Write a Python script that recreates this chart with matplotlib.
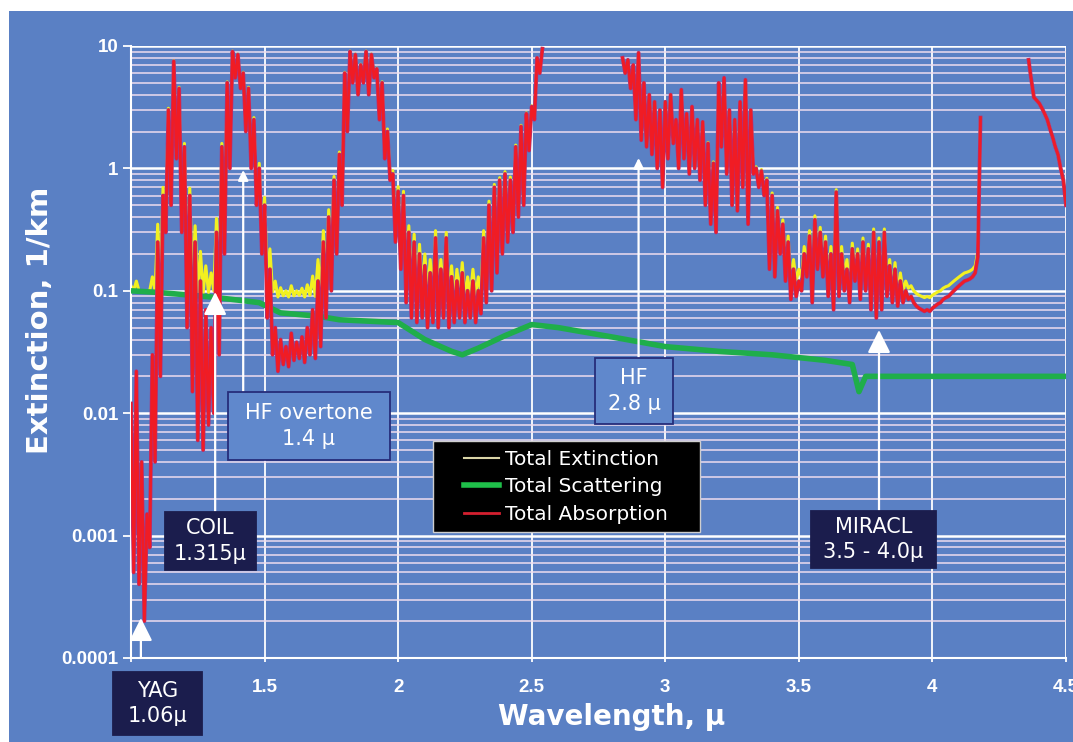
import numpy as np
import matplotlib
matplotlib.use("Agg")
import matplotlib.pyplot as plt
from matplotlib.patches import Rectangle
from matplotlib.lines import Line2D
from matplotlib.ticker import LogLocator, NullFormatter

# ---- values -----------------------------------------------------------
# absorption / extinction (1/km), sampled every 0.01 micron, three pieces
wl_1 = (1.00, 2.54)
absorption_1 = [
    0.012, 0.0005, 0.022, 0.0004, 0.004, 0.0002, 0.0015, 0.0008, 0.03, 0.004,
    0.25, 0.02, 0.6, 0.3, 3.0, 0.5, 7.5, 1.2, 4.5, 0.3,
    1.5, 0.05, 0.6, 0.015, 0.25, 0.006, 0.12, 0.005, 0.07, 0.008,
    0.05, 0.01, 0.3, 0.03, 1.5, 0.2, 5.0, 1.0, 9.0, 5.5,
    8.5, 4.5, 6.0, 2.0, 4.5, 1.0, 2.5, 0.5, 1.0, 0.2,
    0.5, 0.06, 0.15, 0.03, 0.05, 0.022, 0.04, 0.025, 0.035, 0.024,
    0.045, 0.027, 0.038, 0.028, 0.042, 0.026, 0.05, 0.03, 0.07, 0.028,
    0.12, 0.035, 0.25, 0.06, 0.4, 0.1, 0.8, 0.2, 1.3, 0.5,
    6.0, 2.0, 9.0, 5.0, 8.5, 4.0, 7.0, 5.0, 9.0, 4.0,
    8.5, 5.5, 6.5, 2.5, 5.0, 1.2, 2.0, 0.8, 0.9, 0.25,
    0.65, 0.15, 0.6, 0.08, 0.3, 0.06, 0.25, 0.055, 0.2, 0.06,
    0.16, 0.05, 0.14, 0.055, 0.27, 0.05, 0.15, 0.06, 0.27, 0.05,
    0.13, 0.055, 0.12, 0.06, 0.14, 0.055, 0.1, 0.06, 0.12, 0.055,
    0.1, 0.065, 0.27, 0.08, 0.5, 0.1, 0.7, 0.14, 0.8, 0.2,
    0.9, 0.25, 0.8, 0.3, 1.5, 0.4, 2.2, 0.5, 2.8, 1.4,
    3.2, 2.5, 8.0, 6.0, 9.5]
extinction_1 = [
    0.11, 0.10, 0.12, 0.10, 0.10, 0.10, 0.10, 0.10, 0.13, 0.10,
    0.35, 0.12, 0.70, 0.40, 3.1, 0.6, 7.6, 1.3, 4.6, 0.39,
    1.6, 0.14, 0.69, 0.11, 0.34, 0.098, 0.21, 0.096, 0.16, 0.097,
    0.14, 0.10, 0.39, 0.12, 1.6, 0.29, 5.1, 1.1, 9.1, 5.6,
    8.6, 4.6, 6.1, 2.1, 4.6, 1.1, 2.6, 0.58, 1.1, 0.28,
    0.58, 0.13, 0.22, 0.098, 0.12, 0.089, 0.106, 0.091, 0.10, 0.089,
    0.11, 0.091, 0.10, 0.092, 0.105, 0.089, 0.112, 0.092, 0.132, 0.09,
    0.18, 0.097, 0.31, 0.12, 0.46, 0.16, 0.86, 0.26, 1.36, 0.56,
    6.1, 2.1, 9.1, 5.1, 8.6, 4.1, 7.1, 5.1, 9.1, 4.1,
    8.6, 5.6, 6.6, 2.6, 5.1, 1.3, 2.1, 0.86, 0.96, 0.31,
    0.71, 0.2, 0.65, 0.13, 0.34, 0.11, 0.29, 0.096, 0.24, 0.10,
    0.2, 0.089, 0.18, 0.091, 0.31, 0.085, 0.18, 0.093, 0.3, 0.083,
    0.16, 0.085, 0.15, 0.09, 0.17, 0.086, 0.13, 0.092, 0.15, 0.088,
    0.13, 0.1, 0.31, 0.12, 0.54, 0.14, 0.74, 0.18, 0.84, 0.24,
    0.94, 0.29, 0.85, 0.35, 1.55, 0.45, 2.25, 0.55, 2.85, 1.45,
    3.25, 2.55, 8.05, 6.05, 9.55]

wl_2 = (2.84, 4.18)
absorption_2 = [
    8.0, 6.0, 7.7, 4.5, 7.0, 2.5, 8.8, 1.7, 5.0, 1.5,
    4.0, 1.3, 3.5, 1.0, 3.0, 0.7, 3.5, 1.2, 4.0, 1.6,
    2.5, 1.0, 4.4, 1.2, 2.8, 0.9, 3.2, 1.0, 2.5, 0.8,
    2.4, 0.5, 1.6, 0.35, 1.1, 0.3, 5.0, 1.5, 5.5, 0.9,
    3.0, 0.5, 2.5, 0.45, 3.5, 0.7, 5.3, 0.35, 3.0, 0.9,
    1.0, 0.7, 0.95, 0.6, 0.8, 0.15, 0.6, 0.13, 0.45, 0.2,
    0.35, 0.12, 0.25, 0.085, 0.15, 0.09, 0.12, 0.1, 0.2, 0.13,
    0.28, 0.08, 0.38, 0.15, 0.3, 0.13, 0.25, 0.09, 0.2, 0.07,
    0.64, 0.09, 0.2, 0.1, 0.15, 0.08, 0.22, 0.12, 0.2, 0.085,
    0.25, 0.1, 0.22, 0.07, 0.3, 0.06, 0.25, 0.07, 0.3, 0.09,
    0.16, 0.08, 0.15, 0.075, 0.12, 0.08, 0.1, 0.085, 0.09, 0.08,
    0.075, 0.072, 0.07, 0.068, 0.07, 0.068, 0.072, 0.075, 0.078, 0.08,
    0.085, 0.088, 0.09, 0.095, 0.1, 0.105, 0.11, 0.115, 0.12, 0.122,
    0.125, 0.13, 0.14, 0.19, 2.6]
extinction_2 = [
    8.0, 6.0, 7.7, 4.5, 7.0, 2.5, 8.8, 1.74, 5.0, 1.54,
    4.0, 1.34, 3.5, 1.04, 3.0, 0.74, 3.5, 1.23, 4.0, 1.63,
    2.5, 1.03, 4.4, 1.23, 2.8, 0.93, 3.2, 1.03, 2.5, 0.83,
    2.4, 0.53, 1.63, 0.38, 1.13, 0.33, 5.0, 1.53, 5.5, 0.93,
    3.0, 0.53, 2.5, 0.48, 3.5, 0.73, 5.3, 0.38, 3.0, 0.93,
    1.03, 0.73, 0.98, 0.63, 0.83, 0.18, 0.63, 0.16, 0.48, 0.23,
    0.38, 0.15, 0.28, 0.114, 0.18, 0.12, 0.15, 0.13, 0.23, 0.16,
    0.31, 0.11, 0.41, 0.18, 0.33, 0.16, 0.28, 0.12, 0.23, 0.1,
    0.67, 0.12, 0.23, 0.13, 0.18, 0.105, 0.245, 0.145, 0.22, 0.1,
    0.27, 0.12, 0.24, 0.09, 0.32, 0.08, 0.27, 0.09, 0.32, 0.11,
    0.18, 0.1, 0.17, 0.095, 0.14, 0.1, 0.12, 0.105, 0.11, 0.1,
    0.095, 0.092, 0.09, 0.088, 0.09, 0.088, 0.092, 0.095, 0.098, 0.1,
    0.105, 0.108, 0.11, 0.115, 0.12, 0.125, 0.13, 0.135, 0.14, 0.142,
    0.145, 0.15, 0.16, 0.21, 2.6]

wl_3 = (4.36, 4.50)
absorption_3 = [7.7, 5.3, 3.8, 3.6, 3.4, 3.1, 2.8, 2.5, 2.1, 1.8, 1.5, 1.3, 1.0, 0.8, 0.5]
extinction_3 = [7.7, 5.3, 3.8, 3.6, 3.4, 3.1, 2.8, 2.5, 2.1, 1.8, 1.5, 1.3, 1.0, 0.82, 0.52]

# scattering is smooth, so fewer points
scatter_wl = [1.0, 1.1, 1.2, 1.3, 1.4, 1.48, 1.56, 1.7, 1.78, 2.0, 2.1, 2.2, 2.24,
              2.3, 2.4, 2.5, 2.6, 2.8, 3.0, 3.2, 3.4, 3.6, 3.7, 3.725, 3.75, 3.8, 4.0, 4.5]
scattering = [0.1, 0.097, 0.093, 0.089, 0.084, 0.08, 0.066, 0.062, 0.058, 0.055, 0.04,
              0.032, 0.03, 0.034, 0.043, 0.053, 0.05, 0.042, 0.035, 0.032, 0.03, 0.027,
              0.025, 0.015, 0.02, 0.02, 0.02, 0.02]

x_ticks = [1, 1.5, 2, 2.5, 3, 3.5, 4, 4.5]
x_ticklabels = ['', '1.5', '2', '2.5', '3', '3.5', '4', '4.5']  # "1" sits under the YAG box
y_ticks = [1e-4, 1e-3, 1e-2, 1e-1, 1, 10]
y_ticklabels = ['0.0001', '0.001', '0.01', '0.1', '1', '10']
legend_labels = ['Total Extinction', 'Total Scattering', 'Total Absorption']

# ---- layout / colours ------------------------------------------------
W, H = 1073, 742
BLUE = '#5a80c4'
NAVY = '#1b1d4d'
TICKFONT = dict(fontsize=13.5, fontweight='bold', color='white',
                family=['Liberation Sans', 'DejaVu Sans'])


def fx(px):
    return px / W


def fy(py):
    return 1 - py / H


def piece(rng, vals):
    return np.linspace(rng[0], rng[1], len(vals)), np.array(vals, float)


gap = [np.nan]
w1, a1 = piece(wl_1, absorption_1)
w2, a2 = piece(wl_2, absorption_2)
w3, a3 = piece(wl_3, absorption_3)
wl = np.concatenate([w1, gap, w2, gap, w3])
absorption = np.concatenate([a1, gap, a2, gap, a3])
extinction = np.concatenate([extinction_1, gap, extinction_2, gap, extinction_3])

fig = plt.figure(figsize=(W / 100, H / 100), dpi=100, facecolor=BLUE)
# thin white margin top and left like the scan
fig.add_artist(Rectangle((0, fy(11)), 1, 1 - fy(11), transform=fig.transFigure,
                         facecolor='white', edgecolor='none', zorder=10))
fig.add_artist(Rectangle((0, 0), fx(9), 1, transform=fig.transFigure,
                         facecolor='white', edgecolor='none', zorder=10))

ax = fig.add_axes([fx(131), fy(658), fx(1066) - fx(131), fy(46) - fy(658)])
ax.set_facecolor(BLUE)
ax.set_yscale('log')
ax.set_xlim(1, 4.5)
ax.set_ylim(1e-4, 10)

ax.set_yticks(y_ticks, labels=y_ticklabels, **TICKFONT)
ax.set_xticks(x_ticks, labels=x_ticklabels, **TICKFONT)
ax.yaxis.set_minor_locator(LogLocator(base=10, subs=np.arange(2, 10)))
ax.yaxis.set_minor_formatter(NullFormatter())

# grid
ax.grid(axis='y', which='major', color='white', lw=1.8, zorder=0.5)
ax.grid(axis='y', which='minor', color='#eedcee', lw=1.1, zorder=0.5)
ax.grid(axis='x', which='major', color='white', lw=1.3, zorder=0.5)
ax.set_axisbelow(True)

for s in ['top', 'right']:
    ax.spines[s].set_visible(False)
for s in ['left', 'bottom']:
    ax.spines[s].set_color('white')
    ax.spines[s].set_linewidth(1.5)

ax.tick_params(axis='y', which='major', direction='out', length=6, width=1.3,
               color='white', pad=3)
ax.tick_params(axis='y', which='minor', length=0)
ax.tick_params(axis='x', direction='out', length=3, width=1.3, color='white', pad=12)

ax.set_xlabel('Wavelength, μ', fontsize=20, fontweight='bold', color='white', va='center')
ax.xaxis.set_label_coords(0.514, -0.097)
ax.set_ylabel('Extinction, 1/km', fontsize=21, fontweight='bold', color='white', va='center')
ax.yaxis.set_label_coords(-0.097, 0.552)

# curves
ax.plot(wl, extinction, color='#f2f020', lw=2.2, zorder=2)
ax.plot(scatter_wl, scattering, color='#1fae4a', lw=4.0, zorder=3, solid_capstyle='butt')
ax.plot(wl, absorption, color='#b0307a', lw=2.8, zorder=4)
ax.plot(wl, absorption, color='#f01c24', lw=1.9, zorder=4.5)

# arrows (x in microns, y in figure pixels from the top)
arrows = [
    (1.037, 618, 658, 'big'),
    (1.315, 292, 512, 'big'),
    (1.42, 170, 392, 'small'),
    (2.9, 158, 358, 'small'),
    (3.80, 330, 511, 'big'),
]
for x, tip, base, kind in arrows:
    if kind == 'big':
        style = '-|>,head_length=1.4,head_width=0.7'
    else:
        style = '-|>,head_length=0.6,head_width=0.3'
    ax.annotate('', xy=(x, H - tip), xytext=(x, H - base),
                xycoords=('data', 'figure pixels'), textcoords=('data', 'figure pixels'),
                arrowprops=dict(arrowstyle=style, color='white', lw=1.6,
                                shrinkA=0, shrinkB=0),
                annotation_clip=False, zorder=6)

# label boxes (pixel corners)
boxes = [
    ('YAG\n1.06μ', 113, 672, 202, 735, NAVY, NAVY),
    ('COIL\n1.315μ', 165, 512, 256, 570, NAVY, NAVY),
    ('HF overtone\n1.4 μ', 228, 392, 390, 460, '#6088cc', '#262d7a'),
    ('HF\n2.8 μ', 595, 358, 673, 424, '#6088cc', '#262d7a'),
    ('MIRACL\n3.5 - 4.0μ', 811, 511, 936, 568, NAVY, NAVY),
]
for text, x0, y0, x1, y1, fc, ec in boxes:
    fig.add_artist(Rectangle((fx(x0), fy(y1)), fx(x1) - fx(x0), fy(y0) - fy(y1),
                             transform=fig.transFigure, facecolor=fc, edgecolor=ec,
                             lw=1.3, zorder=3))
    fig.text(fx((x0 + x1) / 2), fy((y0 + y1) / 2), text, ha='center', va='center',
             color='white', fontsize=15, linespacing=1.35, zorder=4)

# legend on a black panel
fig.add_artist(Rectangle((fx(433), fy(532)), fx(700) - fx(433), fy(441) - fy(532),
                         transform=fig.transFigure, facecolor='black',
                         edgecolor='#cfcfcf', lw=1.0, zorder=3))
handles = [Line2D([], [], color='#d9d4a6', lw=1.5),
           Line2D([], [], color='#1fbf4a', lw=4),
           Line2D([], [], color='#d42030', lw=2)]
fig.legend(handles, legend_labels, loc='center', bbox_to_anchor=(fx(566), fy(487)),
           frameon=False, fontsize=14.5, labelcolor='white', handlelength=1.75,
           handletextpad=0.3, labelspacing=0.42)

plt.savefig('out.png', dpi=100)
